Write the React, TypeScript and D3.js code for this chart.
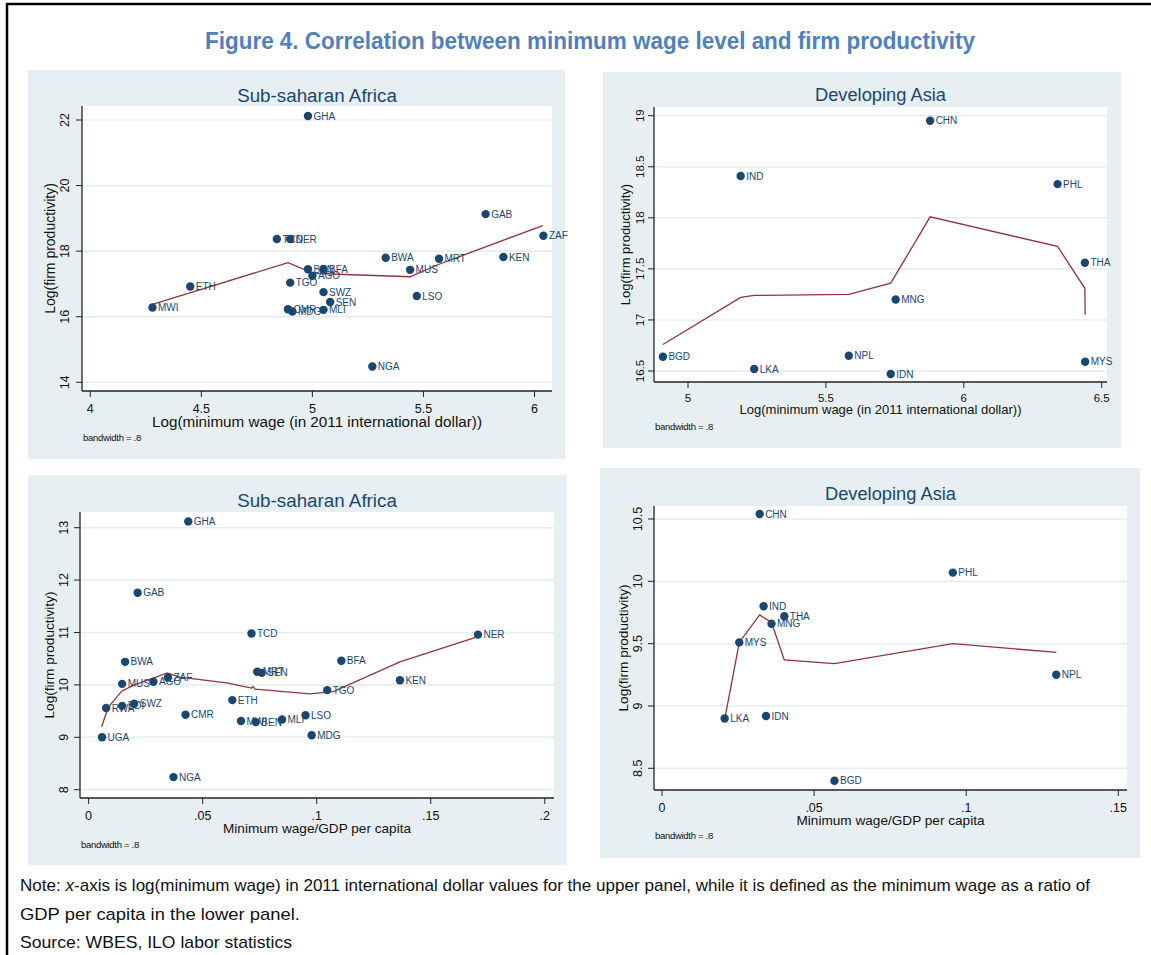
import * as d3 from 'd3'

const FONT = "'Liberation Sans', Arial, sans-serif"
const NAVY = '#1a476f'
const MAROON = '#90353b'
const PANEL_BG = '#e8eff2'
const GRID = '#e4edf0'

// upper left: Sub-saharan Africa, log(minimum wage) vs log(firm productivity)
const SSA_LOG_NAMES = ['MWI', 'ETH', 'TCD', 'NER', 'GHA', 'BEN', 'BFA', 'AGO', 'TGO', 'SWZ', 'SEN', 'CMR', 'MDG', 'MLI', 'BWA', 'MUS', 'MRT', 'LSO', 'GAB', 'ZAF', 'KEN', 'NGA']
const SSA_LOG_X = [4.28, 4.45, 4.84, 4.9, 4.98, 4.98, 5.05, 5.0, 4.9, 5.05, 5.08, 4.89, 4.91, 5.05, 5.33, 5.44, 5.57, 5.47, 5.78, 6.04, 5.86, 5.27]
const SSA_LOG_Y = [16.28, 16.92, 18.37, 18.37, 22.12, 17.45, 17.45, 17.25, 17.04, 16.75, 16.45, 16.23, 16.16, 16.21, 17.8, 17.43, 17.77, 16.63, 19.13, 18.47, 17.82, 14.48]
const SSA_LOG_LOWESS_X = [4.28, 4.89, 5.0, 5.05, 5.44, 5.57, 6.037]
const SSA_LOG_LOWESS_Y = [16.38, 17.65, 17.34, 17.31, 17.22, 17.6, 18.78]

// upper right: Developing Asia
const ASIA_LOG_NAMES = ['CHN', 'IND', 'PHL', 'THA', 'MNG', 'BGD', 'NPL', 'LKA', 'IDN', 'MYS']
const ASIA_LOG_X = [5.878, 5.191, 6.34, 6.439, 5.753, 4.909, 5.583, 5.24, 5.735, 6.44]
const ASIA_LOG_Y = [18.95, 18.41, 18.33, 17.56, 17.2, 16.64, 16.65, 16.52, 16.47, 16.59]
const ASIA_LOG_LOWESS_X = [4.909, 5.191, 5.24, 5.583, 5.735, 5.878, 6.34, 6.439, 6.44]
const ASIA_LOG_LOWESS_Y = [16.76, 17.22, 17.24, 17.25, 17.36, 18.01, 17.72, 17.31, 17.05]

// lower left: Sub-saharan Africa, minimum wage / GDP per capita
const SSA_RATIO_NAMES = ['GHA', 'GAB', 'TCD', 'NER', 'BWA', 'BFA', 'MRT', 'SEN', 'KEN', 'ZAF', 'AGO', 'MUS', 'TGO', 'ETH', 'RWA', 'BDI', 'SWZ', 'CMR', 'MWI', 'BEN', 'MLI', 'LSO', 'UGA', 'MDG', 'NGA']
const SSA_RATIO_X = [0.0437, 0.0215, 0.0714, 0.1707, 0.016, 0.1108, 0.0739, 0.0759, 0.1365, 0.0348, 0.0284, 0.0147, 0.1046, 0.063, 0.0077, 0.0147, 0.02, 0.0425, 0.0668, 0.0733, 0.0848, 0.0951, 0.0059, 0.0978, 0.0372]
const SSA_RATIO_Y = [13.12, 11.76, 10.98, 10.96, 10.44, 10.46, 10.25, 10.23, 10.09, 10.14, 10.06, 10.02, 9.9, 9.71, 9.56, 9.6, 9.64, 9.43, 9.31, 9.29, 9.34, 9.42, 9.0, 9.04, 8.24]
const SSA_RATIO_LOWESS_X = [0.0057, 0.0086, 0.0145, 0.02, 0.0284, 0.0345, 0.04, 0.0605, 0.0715, 0.0721, 0.073, 0.097, 0.1073, 0.1365, 0.1707]
const SSA_RATIO_LOWESS_Y = [9.2, 9.57, 9.88, 10.0, 10.13, 10.23, 10.15, 10.04, 9.94, 9.97, 9.92, 9.83, 9.87, 10.44, 10.92]

// lower right: Developing Asia
const ASIA_RATIO_NAMES = ['CHN', 'PHL', 'IND', 'THA', 'MNG', 'MYS', 'NPL', 'LKA', 'IDN', 'BGD']
const ASIA_RATIO_X = [0.0321, 0.0956, 0.0334, 0.0402, 0.036, 0.0254, 0.1296, 0.0206, 0.0342, 0.0567]
const ASIA_RATIO_Y = [10.54, 10.07, 9.8, 9.72, 9.66, 9.51, 9.25, 8.9, 8.92, 8.4]
const ASIA_RATIO_LOWESS_X = [0.0206, 0.0254, 0.0321, 0.036, 0.0402, 0.0567, 0.0956, 0.1296]
const ASIA_RATIO_LOWESS_Y = [8.89, 9.51, 9.73, 9.67, 9.37, 9.34, 9.5, 9.43]

// axis ticks
const LOG_SSA_XTICKS = [4, 4.5, 5, 5.5, 6]
const LOG_SSA_XLABELS = ['4', '4.5', '5', '5.5', '6']
const LOG_SSA_YTICKS = [14, 16, 18, 20, 22]
const LOG_ASIA_XTICKS = [5, 5.5, 6, 6.5]
const LOG_ASIA_XLABELS = ['5', '5.5', '6', '6.5']
const LOG_ASIA_YTICKS = [16.5, 17, 17.5, 18, 18.5, 19]
const RATIO_SSA_XTICKS = [0, 0.05, 0.1, 0.15, 0.2]
const RATIO_SSA_XLABELS = ['0', '.05', '.1', '.15', '.2']
const RATIO_SSA_YTICKS = [8, 9, 10, 11, 12, 13]
const RATIO_ASIA_XTICKS = [0, 0.05, 0.1, 0.15]
const RATIO_ASIA_XLABELS = ['0', '.05', '.1', '.15']
const RATIO_ASIA_YTICKS = [8.5, 9, 9.5, 10, 10.5]

const LOG_XTITLE = 'Log(minimum wage (in 2011 international dollar))'
const RATIO_XTITLE = 'Minimum wage/GDP per capita'
const YTITLE = 'Log(firm productivity)'

type PanelProps = {
  title: string
  names: string[]
  xs: number[]
  ys: number[]
  lowX: number[]
  lowY: number[]
  xTicks: number[]
  xLabels: string[]
  yTicks: number[]
  xTitle: string
  // layout
  bg: [number, number, number, number]
  plot: [number, number, number, number]
  xDom: [number, number]
  xRange: [number, number]
  yDom: [number, number]
  yRange: [number, number]
  titleY: number
  off: { ytick: number; ytitle: number; xtick: number; xtitle: number; bw: number }
  fs: number
  titleFs: number
  axisTitleFs: number
  xTitleLen: number
}

function Panel(p: PanelProps) {
  const [l, t, r, b] = p.plot
  const x = d3.scaleLinear().domain(p.xDom).range(p.xRange)
  const y = d3.scaleLinear().domain(p.yDom).range(p.yRange)
  const line = d3.line<number>()
    .x((_, i) => x(p.lowX[i]))
    .y((_, i) => y(p.lowY[i]))

  return (
    <g fontFamily={FONT}>
      <rect x={p.bg[0]} y={p.bg[1]} width={p.bg[2] - p.bg[0]} height={p.bg[3] - p.bg[1]} fill={PANEL_BG} />
      <rect x={l} y={t} width={r - l} height={b - t} fill="white" />

      {/* gridlines */}
      {p.yTicks.map(v => (
        <line key={`g${v}`} x1={l} x2={r} y1={y(v)} y2={y(v)} stroke={GRID} strokeWidth={1.6} />
      ))}

      {/* axes */}
      <line x1={l} x2={l} y1={t} y2={b} stroke="#222" strokeWidth={1.3} />
      <line x1={l} x2={r} y1={b} y2={b} stroke="#222" strokeWidth={1.3} />

      {p.yTicks.map(v => (
        <g key={`y${v}`}>
          <line x1={l - 6} x2={l} y1={y(v)} y2={y(v)} stroke="#222" strokeWidth={1} />
          <text
            transform={`translate(${l - p.off.ytick},${y(v)}) rotate(-90)`}
            textAnchor="middle"
            fontSize={p.fs}
            fill="#111"
          >
            {v}
          </text>
        </g>
      ))}
      {p.xTicks.map((v, i) => (
        <g key={`x${v}`}>
          <line x1={x(v)} x2={x(v)} y1={b} y2={b + 6} stroke="#222" strokeWidth={1} />
          <text x={x(v)} y={b + p.off.xtick} textAnchor="middle" fontSize={p.fs} fill="#111">
            {p.xLabels[i]}
          </text>
        </g>
      ))}

      <text
        transform={`translate(${l - p.off.ytitle},${(t + b) / 2}) rotate(-90)`}
        textAnchor="middle"
        fontSize={p.axisTitleFs}
        fill="#111"
      >
        {YTITLE}
      </text>
      <text
        x={(l + r) / 2}
        y={b + p.off.xtitle}
        textAnchor="middle"
        fontSize={p.axisTitleFs}
        fill="#111"
        textLength={p.xTitleLen}
        lengthAdjust="spacingAndGlyphs"
      >
        {p.xTitle}
      </text>
      <text x={l + 1} y={b + p.off.bw} fontSize={9.5} fill="#111" letterSpacing={-0.3}>
        bandwidth = .8
      </text>

      <text x={(l + r) / 2} y={p.titleY} textAnchor="middle" fontSize={p.titleFs} fill={NAVY}>
        {p.title}
      </text>

      {/* lowess smoother */}
      <path d={line(p.lowX) || ''} fill="none" stroke={MAROON} strokeWidth={1.3} />

      {/* countries */}
      {p.names.map((n, i) => (
        <g key={n}>
          <circle cx={x(p.xs[i])} cy={y(p.ys[i])} r={4.2} fill={NAVY} />
          <text x={x(p.xs[i]) + 5.5} y={y(p.ys[i]) + 3.6} fontSize={10} fill={NAVY}>
            {n}
          </text>
        </g>
      ))}
    </g>
  )
}

export default function App() {
  return (
    <svg
      width={1151}
      height={955}
      style={{ position: 'absolute', left: 0, top: 0, background: 'white' }}
    >
      <rect x={7} y={4} width={1160} height={970} fill="none" stroke="black" strokeWidth={2.5} />

      <text
        x={590}
        y={49}
        textAnchor="middle"
        fontFamily={FONT}
        fontWeight="bold"
        fontSize={24}
        fill="#4f81bd"
        textLength={770}
        lengthAdjust="spacingAndGlyphs"
      >
        Figure 4. Correlation between minimum wage level and firm productivity
      </text>

      <Panel
        title="Sub-saharan Africa"
        names={SSA_LOG_NAMES}
        xs={SSA_LOG_X}
        ys={SSA_LOG_Y}
        lowX={SSA_LOG_LOWESS_X}
        lowY={SSA_LOG_LOWESS_Y}
        xTicks={LOG_SSA_XTICKS}
        xLabels={LOG_SSA_XLABELS}
        yTicks={LOG_SSA_YTICKS}
        xTitle={LOG_XTITLE}
        bg={[28, 70, 565, 459]}
        plot={[82, 106, 552, 391]}
        xDom={[4, 6]}
        xRange={[90.3, 534.5]}
        yDom={[14, 22]}
        yRange={[382.3, 120]}
        titleY={102}
        off={{ ytick: 13, ytitle: 27, xtick: 22, xtitle: 36, bw: 50 }}
        fs={12.5}
        titleFs={18.8}
        axisTitleFs={14}
        xTitleLen={330}
      />
      <Panel
        title="Developing Asia"
        names={ASIA_LOG_NAMES}
        xs={ASIA_LOG_X}
        ys={ASIA_LOG_Y}
        lowX={ASIA_LOG_LOWESS_X}
        lowY={ASIA_LOG_LOWESS_Y}
        xTicks={LOG_ASIA_XTICKS}
        xLabels={LOG_ASIA_XLABELS}
        yTicks={LOG_ASIA_YTICKS}
        xTitle={LOG_XTITLE}
        bg={[603, 72, 1121, 448]}
        plot={[654, 107, 1107, 382]}
        xDom={[5, 6.5]}
        xRange={[688, 1101.7]}
        yDom={[16.5, 19]}
        yRange={[371, 115.7]}
        titleY={101}
        off={{ ytick: 10, ytitle: 24, xtick: 20, xtitle: 32, bw: 48 }}
        fs={11.5}
        titleFs={18.3}
        axisTitleFs={13}
        xTitleLen={282}
      />
      <Panel
        title="Sub-saharan Africa"
        names={SSA_RATIO_NAMES}
        xs={SSA_RATIO_X}
        ys={SSA_RATIO_Y}
        lowX={SSA_RATIO_LOWESS_X}
        lowY={SSA_RATIO_LOWESS_Y}
        xTicks={RATIO_SSA_XTICKS}
        xLabels={RATIO_SSA_XLABELS}
        yTicks={RATIO_SSA_YTICKS}
        xTitle={RATIO_XTITLE}
        bg={[28, 475, 567, 865]}
        plot={[80, 512, 554, 798]}
        xDom={[0, 0.2]}
        xRange={[88.6, 544.8]}
        yDom={[8, 13]}
        yRange={[789.7, 527.7]}
        titleY={507}
        off={{ ytick: 12, ytitle: 26, xtick: 22, xtitle: 35, bw: 50 }}
        fs={12.5}
        titleFs={18.8}
        axisTitleFs={13.6}
        xTitleLen={188}
      />
      <Panel
        title="Developing Asia"
        names={ASIA_RATIO_NAMES}
        xs={ASIA_RATIO_X}
        ys={ASIA_RATIO_Y}
        lowX={ASIA_RATIO_LOWESS_X}
        lowY={ASIA_RATIO_LOWESS_Y}
        xTicks={RATIO_ASIA_XTICKS}
        xLabels={RATIO_ASIA_XLABELS}
        yTicks={RATIO_ASIA_YTICKS}
        xTitle={RATIO_XTITLE}
        bg={[600, 468, 1140, 858]}
        plot={[654, 506, 1127, 790]}
        xDom={[0, 0.15]}
        xRange={[662, 1118.3]}
        yDom={[8.5, 10.5]}
        yRange={[768.3, 519]}
        titleY={500}
        off={{ ytick: 12, ytitle: 26, xtick: 22, xtitle: 35, bw: 49 }}
        fs={12.5}
        titleFs={18.3}
        axisTitleFs={13.6}
        xTitleLen={188}
      />

      <g fontFamily={FONT} fontSize={17} fill="#111">
        <text x={20} y={891} textLength={1070} lengthAdjust="spacingAndGlyphs">
          Note: <tspan fontStyle="italic">x</tspan>-axis is log(minimum wage) in 2011 international dollar values for the upper panel, while it is defined as the minimum wage as a ratio of
        </text>
        <text x={20} y={920} textLength={280} lengthAdjust="spacingAndGlyphs">
          GDP per capita in the lower panel.
        </text>
        <text x={20} y={948} textLength={272} lengthAdjust="spacingAndGlyphs">
          Source: WBES, ILO labor statistics
        </text>
      </g>
    </svg>
  )
}
